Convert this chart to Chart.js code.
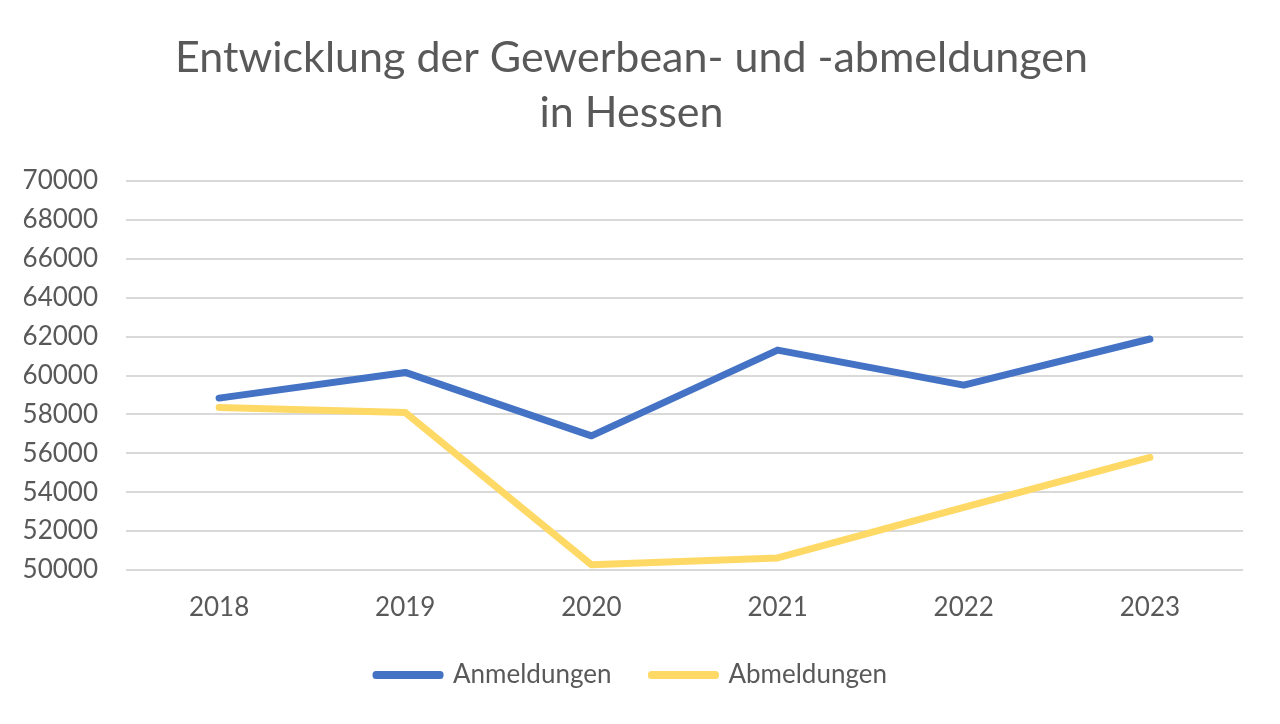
<!DOCTYPE html>
<html>
<head>
<meta charset="utf-8">
<script src="https://cdn.jsdelivr.net/npm/chart.js@4/dist/chart.umd.min.js"></script>
<style>
  html, body { margin: 0; padding: 0; background: #fff; }
  #wrap { width: 1280px; height: 724px; }
</style>
</head>
<body>
<div id="wrap"><canvas id="chart" width="1280" height="724"></canvas></div>
<script>
// chart data
const years = ["2018", "2019", "2020", "2021", "2022", "2023"];
const anmeldungen = [58840, 60160, 56900, 61310, 59510, 61880];
const abmeldungen = [58360, 58100, 50270, 50620, 53220, 55790];
const titleLines = ["Entwicklung der Gewerbean- und -abmeldungen", "in Hessen"];

const textColor = "#595959";
const fontFamily = "Lato, 'Open Sans', sans-serif";

const ctx = document.getElementById("chart").getContext("2d");

new Chart(ctx, {
  type: "line",
  data: {
    labels: years,
    datasets: [
      {
        label: "Anmeldungen",
        data: anmeldungen,
        borderColor: "#4472C4",
        backgroundColor: "#4472C4",
        borderWidth: 7,
        borderCapStyle: "round",
        borderJoinStyle: "round",
        pointRadius: 0,
        tension: 0,
      },
      {
        label: "Abmeldungen",
        data: abmeldungen,
        borderColor: "#FFD966",
        backgroundColor: "#FFD966",
        borderWidth: 7,
        borderCapStyle: "round",
        borderJoinStyle: "round",
        pointRadius: 0,
        tension: 0,
      },
    ],
  },
  options: {
    responsive: false,
    animation: false,
    layout: { padding: { left: 20, right: 37, top: 20, bottom: 26 } },
    plugins: {
      title: {
        display: true,
        text: titleLines,
        color: textColor,
        font: { family: fontFamily, size: 43, weight: "normal", lineHeight: 1.28 },
        padding: { top: 11, bottom: 40 },
      },
      legend: {
        position: "bottom",
        labels: {
          color: textColor,
          font: { family: fontFamily, size: 26 },
          boxWidth: 64,
          boxHeight: 1,
          padding: 40,
        },
      },
      tooltip: { enabled: false },
    },
    scales: {
      x: {
        offset: true,
        grid: { display: false },
        border: { display: false },
        ticks: { color: textColor, font: { family: fontFamily, size: 26 }, padding: 14 },
        afterFit: (scale) => { scale.height = 52; },
      },
      y: {
        min: 50000,
        max: 70000,
        ticks: {
          stepSize: 2000,
          color: textColor,
          font: { family: fontFamily, size: 26 },
          padding: 28,
          callback: (value) => String(value),
        },
        grid: { color: "#d9d9d9", lineWidth: 2, drawTicks: false },
        border: { display: false },
        afterFit: (scale) => { scale.width = 106; },
      },
    },
  },
});
</script>
</body>
</html>
